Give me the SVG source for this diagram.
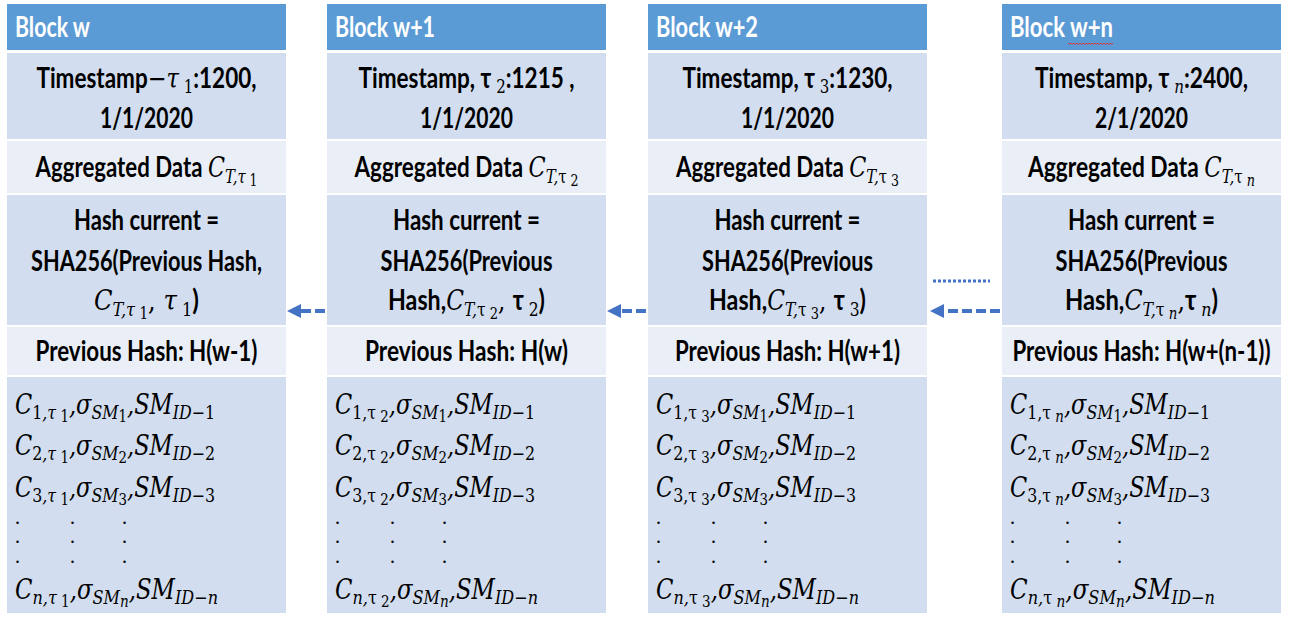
<svg xmlns="http://www.w3.org/2000/svg" width="1302" height="617" viewBox="0 0 1302 617">
<style>
.hdr{fill:#5B9BD5}
.dk{fill:#D2DEEF}
.lt{fill:#EAEFF7}
.hd{font-family:Lato,'Noto Sans',sans-serif;font-weight:700;font-size:28px;fill:#fff}
.t{font-family:Lato,'Noto Sans',sans-serif;font-weight:700;font-size:28.5px;fill:#000;text-anchor:middle}
.mi{font-family:'DejaVu Serif',serif;font-style:italic;font-weight:400}
.ms{font-family:'DejaVu Serif',serif;font-style:normal;font-weight:400}
.up{font-style:normal}
.m{font-family:'DejaVu Serif',serif;font-style:italic;font-size:27px;fill:#000}
.sb{font-size:19px}
.ssb{font-size:16px}
.dot{font-family:'Liberation Serif',serif;font-size:20px;fill:#000}
.arr{stroke:#4472C4;stroke-width:4;fill:none;stroke-dasharray:10 4}
</style>
<defs>
<marker id="ah" markerUnits="userSpaceOnUse" markerWidth="14" markerHeight="14" viewBox="0 0 14 14" refX="2" refY="7" orient="auto">
<path d="M0,0 L14,7 L0,14 z" fill="#4472C4"/>
</marker>
</defs>
<rect width="1302" height="617" fill="#fff"/>

<g id="block-w">
<rect class="hdr" x="7" y="4" width="279" height="46"/>
<rect class="dk" x="7" y="53" width="279" height="86"/>
<rect class="lt" x="7" y="141" width="279" height="52"/>
<rect class="dk" x="7" y="195" width="279" height="130"/>
<rect class="lt" x="7" y="327" width="279" height="48"/>
<rect class="dk" x="7" y="377" width="279" height="236"/>
<text class="hd" x="15" y="37" textLength="75" lengthAdjust="spacingAndGlyphs">Block w</text>
<text class="t" x="146.5" y="88" textLength="220" lengthAdjust="spacingAndGlyphs">Timestamp<tspan class="ms">−</tspan><tspan class="mi">τ</tspan><tspan class="ms sb" dy="5"> 1</tspan><tspan dy="-5">:1200,</tspan></text>
<text class="t" x="146.5" y="128" textLength="93" lengthAdjust="spacingAndGlyphs">1/1/2020</text>
<text class="t" x="146.5" y="177" textLength="222" lengthAdjust="spacingAndGlyphs">Aggregated Data <tspan class="mi">C</tspan><tspan class="mi sb" dy="6">T,τ</tspan><tspan class="ms ssb" dy="3"> 1</tspan></text>
<text class="t" x="146.5" y="230" textLength="145" lengthAdjust="spacingAndGlyphs">Hash current =</text>
<text class="t" x="146.5" y="271" textLength="231" lengthAdjust="spacingAndGlyphs">SHA256(Previous Hash,</text>
<text class="t" x="146.5" y="310" textLength="105" lengthAdjust="spacingAndGlyphs"><tspan class="mi">C</tspan><tspan class="mi sb" dy="6">T,τ</tspan><tspan class="ms ssb" dy="3"> 1</tspan><tspan class="ms" dy="-9">, </tspan><tspan class="mi">τ</tspan><tspan class="ms sb" dy="6"> 1</tspan><tspan dy="-6">)</tspan></text>
<text class="t" x="146.5" y="361" textLength="222" lengthAdjust="spacingAndGlyphs">Previous Hash: H(w-1)</text>
<text class="m" x="15" y="414" textLength="200" lengthAdjust="spacingAndGlyphs">C<tspan class="sb" dy="5"><tspan class="up">1</tspan>,τ</tspan><tspan class="ssb up" dy="3"> 1</tspan><tspan dy="-8">,σ</tspan><tspan class="sb" dy="5">SM</tspan><tspan class="ssb up" dy="3">1</tspan><tspan dy="-8">,SM</tspan><tspan class="sb" dy="5">ID<tspan class="up">−1</tspan></tspan></text>
<text class="m" x="15" y="455" textLength="200" lengthAdjust="spacingAndGlyphs">C<tspan class="sb" dy="5"><tspan class="up">2</tspan>,τ</tspan><tspan class="ssb up" dy="3"> 1</tspan><tspan dy="-8">,σ</tspan><tspan class="sb" dy="5">SM</tspan><tspan class="ssb up" dy="3">2</tspan><tspan dy="-8">,SM</tspan><tspan class="sb" dy="5">ID<tspan class="up">−2</tspan></tspan></text>
<text class="m" x="15" y="497" textLength="200" lengthAdjust="spacingAndGlyphs">C<tspan class="sb" dy="5"><tspan class="up">3</tspan>,τ</tspan><tspan class="ssb up" dy="3"> 1</tspan><tspan dy="-8">,σ</tspan><tspan class="sb" dy="5">SM</tspan><tspan class="ssb up" dy="3">3</tspan><tspan dy="-8">,SM</tspan><tspan class="sb" dy="5">ID<tspan class="up">−3</tspan></tspan></text>
<text class="dot" x="15 70 122" y="524">...</text>
<text class="dot" x="15 70 122" y="543">...</text>
<text class="dot" x="15 70 122" y="563">...</text>
<text class="m" x="15" y="599" textLength="203" lengthAdjust="spacingAndGlyphs">C<tspan class="sb" dy="5">n,τ</tspan><tspan class="ssb up" dy="3"> 1</tspan><tspan dy="-8">,σ</tspan><tspan class="sb" dy="5">SM</tspan><tspan class="ssb" dy="3">n</tspan><tspan dy="-8">,SM</tspan><tspan class="sb" dy="5">ID<tspan class="up">−</tspan>n</tspan></text>
</g>

<g id="block-w1">
<rect class="hdr" x="327" y="4" width="279" height="46"/>
<rect class="dk" x="327" y="53" width="279" height="86"/>
<rect class="lt" x="327" y="141" width="279" height="52"/>
<rect class="dk" x="327" y="195" width="279" height="130"/>
<rect class="lt" x="327" y="327" width="279" height="48"/>
<rect class="dk" x="327" y="377" width="279" height="236"/>
<text class="hd" x="335" y="37" textLength="100" lengthAdjust="spacingAndGlyphs">Block w+1</text>
<text class="t" x="466.5" y="88" textLength="216" lengthAdjust="spacingAndGlyphs">Timestamp, τ<tspan class="ms sb" dy="5"> 2</tspan><tspan dy="-5">:1215 ,</tspan></text>
<text class="t" x="466.5" y="128" textLength="93" lengthAdjust="spacingAndGlyphs">1/1/2020</text>
<text class="t" x="466.5" y="177" textLength="224" lengthAdjust="spacingAndGlyphs">Aggregated Data <tspan class="mi">C</tspan><tspan class="mi sb" dy="6">T,<tspan class="up">τ</tspan></tspan><tspan class="ms ssb" dy="3"> 2</tspan></text>
<text class="t" x="466.5" y="230" textLength="147" lengthAdjust="spacingAndGlyphs">Hash current =</text>
<text class="t" x="466.5" y="271" textLength="172" lengthAdjust="spacingAndGlyphs">SHA256(Previous</text>
<text class="t" x="466.5" y="310" textLength="157" lengthAdjust="spacingAndGlyphs">Hash,<tspan class="mi">C</tspan><tspan class="mi sb" dy="6">T,<tspan class="up">τ</tspan></tspan><tspan class="ms ssb" dy="3"> 2</tspan><tspan class="ms" dy="-9">, </tspan>τ<tspan class="ms sb" dy="6"> 2</tspan><tspan dy="-6">)</tspan></text>
<text class="t" x="466.5" y="361" textLength="203" lengthAdjust="spacingAndGlyphs">Previous Hash: H(w)</text>
<text class="m" x="335" y="414" textLength="200" lengthAdjust="spacingAndGlyphs">C<tspan class="sb" dy="5"><tspan class="up">1,τ</tspan></tspan><tspan class="ssb up" dy="3"> 2</tspan><tspan dy="-8">,σ</tspan><tspan class="sb" dy="5">SM</tspan><tspan class="ssb up" dy="3">1</tspan><tspan dy="-8">,SM</tspan><tspan class="sb" dy="5">ID<tspan class="up">−1</tspan></tspan></text>
<text class="m" x="335" y="455" textLength="200" lengthAdjust="spacingAndGlyphs">C<tspan class="sb" dy="5"><tspan class="up">2,τ</tspan></tspan><tspan class="ssb up" dy="3"> 2</tspan><tspan dy="-8">,σ</tspan><tspan class="sb" dy="5">SM</tspan><tspan class="ssb up" dy="3">2</tspan><tspan dy="-8">,SM</tspan><tspan class="sb" dy="5">ID<tspan class="up">−2</tspan></tspan></text>
<text class="m" x="335" y="497" textLength="200" lengthAdjust="spacingAndGlyphs">C<tspan class="sb" dy="5"><tspan class="up">3,τ</tspan></tspan><tspan class="ssb up" dy="3"> 2</tspan><tspan dy="-8">,σ</tspan><tspan class="sb" dy="5">SM</tspan><tspan class="ssb up" dy="3">3</tspan><tspan dy="-8">,SM</tspan><tspan class="sb" dy="5">ID<tspan class="up">−3</tspan></tspan></text>
<text class="dot" x="335 390 442" y="524">...</text>
<text class="dot" x="335 390 442" y="543">...</text>
<text class="dot" x="335 390 442" y="563">...</text>
<text class="m" x="335" y="599" textLength="203" lengthAdjust="spacingAndGlyphs">C<tspan class="sb" dy="5">n,<tspan class="up">τ</tspan></tspan><tspan class="ssb up" dy="3"> 2</tspan><tspan dy="-8">,σ</tspan><tspan class="sb" dy="5">SM</tspan><tspan class="ssb" dy="3">n</tspan><tspan dy="-8">,SM</tspan><tspan class="sb" dy="5">ID<tspan class="up">−</tspan>n</tspan></text>
</g>

<g id="block-w2">
<rect class="hdr" x="648" y="4" width="279" height="46"/>
<rect class="dk" x="648" y="53" width="279" height="86"/>
<rect class="lt" x="648" y="141" width="279" height="52"/>
<rect class="dk" x="648" y="195" width="279" height="130"/>
<rect class="lt" x="648" y="327" width="279" height="48"/>
<rect class="dk" x="648" y="377" width="279" height="236"/>
<text class="hd" x="656" y="37" textLength="102" lengthAdjust="spacingAndGlyphs">Block w+2</text>
<text class="t" x="787.5" y="88" textLength="210" lengthAdjust="spacingAndGlyphs">Timestamp, τ<tspan class="ms sb" dy="5"> 3</tspan><tspan dy="-5">:1230,</tspan></text>
<text class="t" x="787.5" y="128" textLength="93" lengthAdjust="spacingAndGlyphs">1/1/2020</text>
<text class="t" x="787.5" y="177" textLength="223" lengthAdjust="spacingAndGlyphs">Aggregated Data <tspan class="mi">C</tspan><tspan class="mi sb" dy="6">T,<tspan class="up">τ</tspan></tspan><tspan class="ms ssb" dy="3"> 3</tspan></text>
<text class="t" x="787.5" y="230" textLength="146" lengthAdjust="spacingAndGlyphs">Hash current =</text>
<text class="t" x="787.5" y="271" textLength="171" lengthAdjust="spacingAndGlyphs">SHA256(Previous</text>
<text class="t" x="787.5" y="310" textLength="157" lengthAdjust="spacingAndGlyphs">Hash,<tspan class="mi">C</tspan><tspan class="mi sb" dy="6">T,<tspan class="up">τ</tspan></tspan><tspan class="ms ssb" dy="3"> 3</tspan><tspan class="ms" dy="-9">, </tspan>τ<tspan class="ms sb" dy="6"> 3</tspan><tspan dy="-6">)</tspan></text>
<text class="t" x="787.5" y="361" textLength="225" lengthAdjust="spacingAndGlyphs">Previous Hash: H(w+1)</text>
<text class="m" x="656" y="414" textLength="200" lengthAdjust="spacingAndGlyphs">C<tspan class="sb" dy="5"><tspan class="up">1,τ</tspan></tspan><tspan class="ssb up" dy="3"> 3</tspan><tspan dy="-8">,σ</tspan><tspan class="sb" dy="5">SM</tspan><tspan class="ssb up" dy="3">1</tspan><tspan dy="-8">,SM</tspan><tspan class="sb" dy="5">ID<tspan class="up">−1</tspan></tspan></text>
<text class="m" x="656" y="455" textLength="200" lengthAdjust="spacingAndGlyphs">C<tspan class="sb" dy="5"><tspan class="up">2,τ</tspan></tspan><tspan class="ssb up" dy="3"> 3</tspan><tspan dy="-8">,σ</tspan><tspan class="sb" dy="5">SM</tspan><tspan class="ssb up" dy="3">2</tspan><tspan dy="-8">,SM</tspan><tspan class="sb" dy="5">ID<tspan class="up">−2</tspan></tspan></text>
<text class="m" x="656" y="497" textLength="200" lengthAdjust="spacingAndGlyphs">C<tspan class="sb" dy="5"><tspan class="up">3,τ</tspan></tspan><tspan class="ssb up" dy="3"> 3</tspan><tspan dy="-8">,σ</tspan><tspan class="sb" dy="5">SM</tspan><tspan class="ssb up" dy="3">3</tspan><tspan dy="-8">,SM</tspan><tspan class="sb" dy="5">ID<tspan class="up">−3</tspan></tspan></text>
<text class="dot" x="656 711 763" y="524">...</text>
<text class="dot" x="656 711 763" y="543">...</text>
<text class="dot" x="656 711 763" y="563">...</text>
<text class="m" x="656" y="599" textLength="203" lengthAdjust="spacingAndGlyphs">C<tspan class="sb" dy="5">n,<tspan class="up">τ</tspan></tspan><tspan class="ssb up" dy="3"> 3</tspan><tspan dy="-8">,σ</tspan><tspan class="sb" dy="5">SM</tspan><tspan class="ssb" dy="3">n</tspan><tspan dy="-8">,SM</tspan><tspan class="sb" dy="5">ID<tspan class="up">−</tspan>n</tspan></text>
</g>

<g id="block-wn">
<rect class="hdr" x="1002" y="4" width="279" height="46"/>
<rect class="dk" x="1002" y="53" width="279" height="86"/>
<rect class="lt" x="1002" y="141" width="279" height="52"/>
<rect class="dk" x="1002" y="195" width="279" height="130"/>
<rect class="lt" x="1002" y="327" width="279" height="48"/>
<rect class="dk" x="1002" y="377" width="279" height="236"/>
<text class="hd" x="1010" y="37" textLength="103" lengthAdjust="spacingAndGlyphs">Block w+n</text>
<path d="M1068,43 l1.5,1.5 l1.5,-1.5 l1.5,1.5 l1.5,-1.5 l1.5,1.5 l1.5,-1.5 l1.5,1.5 l1.5,-1.5 l1.5,1.5 l1.5,-1.5 l1.5,1.5 l1.5,-1.5 l1.5,1.5 l1.5,-1.5 l1.5,1.5 l1.5,-1.5 l1.5,1.5 l1.5,-1.5 l1.5,1.5 l1.5,-1.5 l1.5,1.5 l1.5,-1.5 l1.5,1.5 l1.5,-1.5 l1.5,1.5 l1.5,-1.5 l1.5,1.5 l1.5,-1.5 l1.5,1.5 l1.5,-1.5" fill="none" stroke="#E03030" stroke-width="1"/>
<text class="t" x="1141.5" y="88" textLength="213" lengthAdjust="spacingAndGlyphs">Timestamp, τ<tspan class="mi sb" dy="5"> n</tspan><tspan dy="-5">:2400,</tspan></text>
<text class="t" x="1141.5" y="128" textLength="93" lengthAdjust="spacingAndGlyphs">2/1/2020</text>
<text class="t" x="1141.5" y="177" textLength="227" lengthAdjust="spacingAndGlyphs">Aggregated Data <tspan class="mi">C</tspan><tspan class="mi sb" dy="6">T,<tspan class="up">τ</tspan></tspan><tspan class="mi ssb" dy="3"> n</tspan></text>
<text class="t" x="1141.5" y="230" textLength="147" lengthAdjust="spacingAndGlyphs">Hash current =</text>
<text class="t" x="1141.5" y="271" textLength="172" lengthAdjust="spacingAndGlyphs">SHA256(Previous</text>
<text class="t" x="1141.5" y="310" textLength="153" lengthAdjust="spacingAndGlyphs">Hash,<tspan class="mi">C</tspan><tspan class="mi sb" dy="6">T,<tspan class="up">τ</tspan></tspan><tspan class="mi ssb" dy="3"> n</tspan><tspan class="ms" dy="-9">,</tspan>τ<tspan class="mi sb" dy="6"> n</tspan><tspan dy="-6">)</tspan></text>
<text class="t" x="1141.5" y="361" textLength="258" lengthAdjust="spacingAndGlyphs">Previous Hash: H(w+(n-1))</text>
<text class="m" x="1010" y="414" textLength="200" lengthAdjust="spacingAndGlyphs">C<tspan class="sb" dy="5"><tspan class="up">1,τ</tspan></tspan><tspan class="ssb" dy="3"> n</tspan><tspan dy="-8">,σ</tspan><tspan class="sb" dy="5">SM</tspan><tspan class="ssb up" dy="3">1</tspan><tspan dy="-8">,SM</tspan><tspan class="sb" dy="5">ID<tspan class="up">−1</tspan></tspan></text>
<text class="m" x="1010" y="455" textLength="200" lengthAdjust="spacingAndGlyphs">C<tspan class="sb" dy="5"><tspan class="up">2,τ</tspan></tspan><tspan class="ssb" dy="3"> n</tspan><tspan dy="-8">,σ</tspan><tspan class="sb" dy="5">SM</tspan><tspan class="ssb up" dy="3">2</tspan><tspan dy="-8">,SM</tspan><tspan class="sb" dy="5">ID<tspan class="up">−2</tspan></tspan></text>
<text class="m" x="1010" y="497" textLength="200" lengthAdjust="spacingAndGlyphs">C<tspan class="sb" dy="5"><tspan class="up">3,τ</tspan></tspan><tspan class="ssb" dy="3"> n</tspan><tspan dy="-8">,σ</tspan><tspan class="sb" dy="5">SM</tspan><tspan class="ssb up" dy="3">3</tspan><tspan dy="-8">,SM</tspan><tspan class="sb" dy="5">ID<tspan class="up">−3</tspan></tspan></text>
<text class="dot" x="1010 1065 1117" y="524">...</text>
<text class="dot" x="1010 1065 1117" y="543">...</text>
<text class="dot" x="1010 1065 1117" y="563">...</text>
<text class="m" x="1010" y="599" textLength="205" lengthAdjust="spacingAndGlyphs">C<tspan class="sb" dy="5">n,<tspan class="up">τ</tspan></tspan><tspan class="ssb" dy="3"> n</tspan><tspan dy="-8">,σ</tspan><tspan class="sb" dy="5">SM</tspan><tspan class="ssb" dy="3">n</tspan><tspan dy="-8">,SM</tspan><tspan class="sb" dy="5">ID<tspan class="up">−</tspan>n</tspan></text>
</g>

<g id="connectors">
<line class="arr" x1="325" y1="311" x2="299" y2="311" marker-end="url(#ah)"/>
<line class="arr" x1="646" y1="311" x2="619" y2="311" marker-end="url(#ah)"/>
<line class="arr" x1="1000" y1="311" x2="942" y2="311" marker-end="url(#ah)"/>
<line x1="933" y1="281" x2="990" y2="281" stroke="#4472C4" stroke-width="3" stroke-dasharray="3 2"/>
</g>
</svg>
